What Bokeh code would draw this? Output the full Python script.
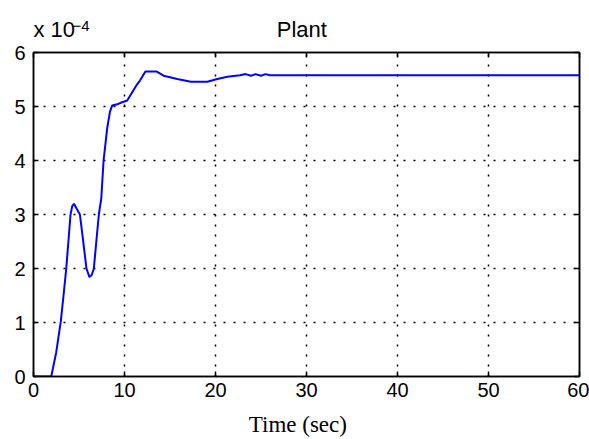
from bokeh.plotting import figure
from bokeh.models import Range1d, FixedTicker, LinearAxis, Title
from bokeh.embed import file_html
from bokeh.resources import INLINE

# Plant response, values in units of 1e-4
time_s = [0, 1.95, 2.5, 3.0, 3.3, 3.6, 4.07, 4.25, 4.45, 4.7, 5.1, 5.5, 5.82, 6.15, 6.4, 6.63,
          7.18, 7.45, 7.7, 8.1, 8.4, 8.65, 9.2, 9.6, 10.3, 10.8, 11.3, 11.7, 12.3, 13.5,
          14.3, 15.8, 17.3, 19.1, 20.2, 21.3, 22.7, 23.3, 23.9, 24.4, 25.0, 25.5, 26.0, 60.0]
plant = [0, 0, 0.45, 1.02, 1.5, 2.0, 3.0, 3.15, 3.2, 3.12, 3.0, 2.45, 2.0, 1.84, 1.88, 2.0,
         3.0, 3.3, 4.0, 4.6, 4.9, 5.02, 5.04, 5.07, 5.11, 5.25, 5.39, 5.48, 5.65, 5.65,
         5.57, 5.51, 5.46, 5.46, 5.51, 5.55, 5.58, 5.6, 5.57, 5.6, 5.57, 5.6, 5.58, 5.58]

x_ticks = [0, 10, 20, 30, 40, 50, 60]
y_ticks = [0, 1, 2, 3, 4, 5, 6]

FONT = "Liberation Sans"
NBSP = "\u00a0"

p = figure(width=589, height=439, x_range=Range1d(0, 60), y_range=Range1d(0, 6),
           output_backend="svg", toolbar_location=None,
           min_border_left=33, min_border_right=10, min_border_top=52, min_border_bottom=62)
p.background_fill_color = "white"
p.border_fill_color = "white"
p.outline_line_color = "black"
p.outline_line_width = 1.5
p.title.text = ""
p.title.visible = False

p.line(time_s, plant, line_color="#0000FF", line_width=2)


def style_axis(ax, ticks, show_labels):
    ax.ticker = FixedTicker(ticks=ticks)
    ax.minor_tick_line_color = None
    ax.major_tick_in = 5
    ax.major_tick_out = 0
    ax.major_tick_line_color = "black"
    ax.major_tick_line_width = 1.5
    ax.axis_line_color = "black"
    ax.axis_line_width = 1.5
    ax.major_label_text_font = FONT
    if show_labels:
        ax.major_label_text_font_size = "20px"
        ax.major_label_text_color = "black"
    else:
        ax.major_label_text_font_size = "1px"
        ax.major_label_text_color = None
        ax.major_label_standoff = 0


style_axis(p.xaxis[0], x_ticks, True)
style_axis(p.yaxis[0], y_ticks, True)
p.xaxis[0].major_label_standoff = 6
p.yaxis[0].major_label_standoff = 8

xa = p.xaxis[0]
xa.axis_label = "Time (sec)" + NBSP * 3
xa.axis_label_text_font = "Liberation Serif"
xa.axis_label_text_font_size = "23px"
xa.axis_label_text_font_style = "normal"
xa.axis_label_text_color = "black"
xa.axis_label_standoff = 12

top_ax = LinearAxis()
style_axis(top_ax, x_ticks, False)
p.add_layout(top_ax, "above")
right_ax = LinearAxis()
style_axis(right_ax, y_ticks, False)
p.add_layout(right_ax, "right")

for g, ticks in ((p.xgrid[0], x_ticks), (p.ygrid[0], y_ticks)):
    g.ticker = FixedTicker(ticks=ticks)
    g.grid_line_color = "black"
    g.grid_line_alpha = 1.0
    g.grid_line_width = 1.5
    g.grid_line_dash = "2 8"

top_title = Title(text="x 10" + NBSP * 33 + "Plant", align="left", offset=0,
                  text_font=FONT, text_font_size="22px", text_font_style="normal",
                  text_color="black", standoff=22)
p.add_layout(top_title, "above")

sup_title = Title(text="\u22124", align="left", offset=39,
                  text_font=FONT, text_font_size="15px", text_font_style="normal",
                  text_color="black", standoff=-54)
p.add_layout(sup_title, "above")

open("out.html", "w").write(file_html(p, INLINE))
